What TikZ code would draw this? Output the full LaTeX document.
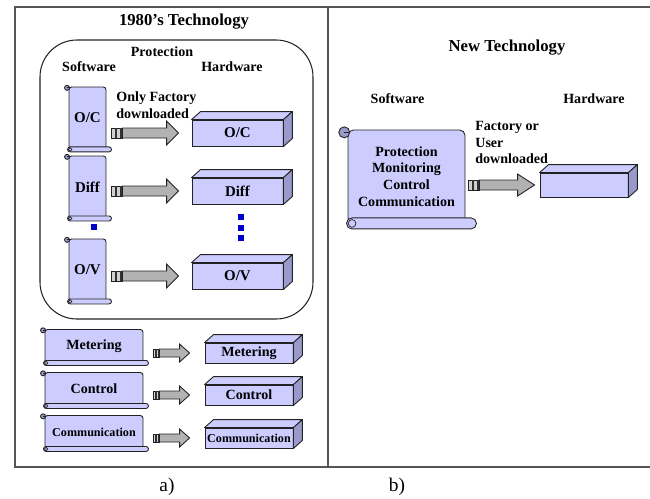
\documentclass[tikz,border=0pt]{standalone}
\usepackage{fontspec}
\setmainfont{Liberation Serif}
\usetikzlibrary{calc, positioning}

\definecolor{scrollc}{HTML}{CCCCFF}
\definecolor{sidec}{HTML}{9999CC}
\definecolor{linec}{HTML}{222222}
\definecolor{arrc}{HTML}{B2B2B2}
\definecolor{dotc}{HTML}{0000CC}
\definecolor{framec}{HTML}{555555}

\tikzset{
  lbl/.style={font=\fontsize{8}{9.4}\selectfont\bfseries, inner sep=0pt},
  ttl/.style={font=\fontsize{9.5}{11}\selectfont\bfseries, inner sep=0pt},
  sw/.style={draw=linec, fill=scrollc, rounded corners=1.5pt, inner sep=0pt, line width=0.5pt,
    font=\fontsize{8.5}{10}\selectfont\bfseries},
  hw/.style={draw=linec, fill=scrollc, inner sep=0pt, line width=0.5pt,
    font=\fontsize{8.5}{10}\selectfont\bfseries},
  deco/.style={draw=linec, fill=scrollc, line width=0.5pt},
  side/.style={draw=linec, fill=sidec, line width=0.5pt, line join=round},
  arr/.style={draw=linec, fill=arrc, line width=0.5pt},
  bdot/.style={fill=dotc}
}

% curls and bottom roll of a scroll: #1 node, #2 curl size
\newcommand\scrollends[2]{%
  \filldraw[deco, fill=sidec] ($(#1.north west)+(-0.6*#2,0.5*#2)$) circle (#2);
  \draw[linec, line width=0.4pt] ($(#1.north west)+(-0.6*#2,0.5*#2)$) -- ++(0.9*#2,0);
  \filldraw[deco, rounded corners={#2*0.55pt}] ($(#1.south west)+(-1,-#2)$) rectangle ($(#1.south east)+(2*#2,#2)$);
  \draw[linec, line width=0.4pt] ($(#1.south west)+(#2-1,0)$) circle (0.7*#2);
}

% top and side face of a hardware box
\newcommand\hwdepth[1]{%
  \filldraw[deco, line join=round] (#1.north west) -- ++(9,-8) -- ($(#1.north east)+(9,-8)$) -- (#1.north east) -- cycle;
  \filldraw[side] (#1.north east) -- ++(9,-8) -- ($(#1.south east)+(9,-8)$) -- (#1.south east) -- cycle;
}

% fat download arrow: #1 from, #2 to, #3 start gap, #4 end gap
\newcommand\fatarrow[4]{%
  \path (#1.east |- #2.west) ++(#3,0) coordinate (fa-s);
  \path (#2.west) ++(-#4,0) coordinate (fa-e);
  \filldraw[arr, line join=miter] ($(fa-s)+(\atail,-\abody)$) -- ($(fa-e)+(-\ahead,-\abody)$)
    -- ($(fa-e)+(-\ahead,-\awide)$) -- (fa-e) -- ($(fa-e)+(-\ahead,\awide)$)
    -- ($(fa-e)+(-\ahead,\abody)$) -- ($(fa-s)+(\atail,\abody)$) -- cycle;
  \filldraw[arr, fill=arrc!60] ($(fa-s)+(0,-\abody)$) rectangle ($(fa-s)+(\atail,\abody)$);
  \fill[gray!40!black] ($(fa-s)+(0.3*\atail,-\abody)$) rectangle ($(fa-s)+(0.55*\atail,\abody)$);
  \fill[gray!40!black] ($(fa-s)+(0.75*\atail,-\abody)$) rectangle ($(fa-s)+(\atail,\abody)$);
}

\begin{document}
\begin{tikzpicture}[x=0.02cm, y=-0.02cm]
  \useasboundingbox (0,0) rectangle (650,498);

  % frame
  \draw[framec, line width=0.7pt] (650,7) -- (15,7) -- (15,467) -- (650,467);
  \draw[framec, line width=0.7pt] (328,7) -- (328,467);

  % a) 1980's technology
  \node[ttl] (t80) at (184,22) {1980’s Technology};
  \draw[linec, line width=0.6pt, rounded corners=21pt] (40,40) rectangle (313,319);
  \node[lbl] (prot) at (162,52) {Protection};
  \node[lbl] (swl) at (89,67) {Software};
  \node[lbl] (hwl) at (232,67) {Hardware};
  \node[lbl, align=left, anchor=west] (only) at (116,105) {Only Factory\\downloaded};

  \node[sw, minimum width=0.74cm, minimum height=1.24cm] (swoc) at (87.5,118) {O/C};
  \node[sw, minimum width=0.74cm, minimum height=1.24cm] (swdiff) at (87.5,187) {Diff};
  \node[sw, minimum width=0.74cm, minimum height=1.24cm] (swov) at (87.5,270) {O/V};
  \scrollends{swoc}{2.5}
  \scrollends{swdiff}{2.5}
  \scrollends{swov}{2.5}

  \node[hw, minimum width=1.82cm, minimum height=0.52cm] (hwoc) at (237.5,133) {O/C};
  \node[hw, minimum width=1.82cm, minimum height=0.52cm] (hwdiff) at (237.5,191) {Diff};
  \node[hw, minimum width=1.82cm, minimum height=0.52cm] (hwov) at (237.5,276) {O/V};
  \hwdepth{hwoc}
  \hwdepth{hwdiff}
  \hwdepth{hwov}

  \def\atail{11}\def\abody{5}\def\awide{12}\def\ahead{12}
  \fatarrow{swoc}{hwoc}{5}{13}
  \fatarrow{swdiff}{hwdiff}{5}{13}
  \fatarrow{swov}{hwov}{5}{13}

  % dots
  \fill[bdot] (91,224) rectangle ++(6,6);
  \fill[bdot] (238,214) rectangle ++(6,6);
  \fill[bdot] (238,225) rectangle ++(6,6);
  \fill[bdot] (238,235) rectangle ++(6,6);

  \node[sw, minimum width=1.96cm, minimum height=0.66cm, font=\fontsize{8}{10}\selectfont\bfseries] (swmet) at (94,346) {Metering};
  \node[sw, minimum width=1.96cm, minimum height=0.66cm, font=\fontsize{8}{10}\selectfont\bfseries] (swctl) at (94,389) {Control};
  \node[sw, minimum width=1.96cm, minimum height=0.66cm, font=\fontsize{6.9}{8}\selectfont\bfseries] (swcom) at (94,432) {Communication};
  \scrollends{swmet}{2.5}
  \scrollends{swctl}{2.5}
  \scrollends{swcom}{2.5}

  \node[hw, minimum width=1.76cm, minimum height=0.4cm, font=\fontsize{8}{10}\selectfont\bfseries] (hwmet) at (249,353) {Metering};
  \node[hw, minimum width=1.76cm, minimum height=0.4cm, font=\fontsize{8}{10}\selectfont\bfseries] (hwctl) at (249,395) {Control};
  \node[hw, minimum width=1.76cm, minimum height=0.4cm, font=\fontsize{6.9}{8}\selectfont\bfseries] (hwcom) at (249,438) {Communication};
  \hwdepth{hwmet}
  \hwdepth{hwctl}
  \hwdepth{hwcom}

  \def\atail{6}\def\abody{4}\def\awide{9}\def\ahead{10}
  \fatarrow{swmet}{hwmet}{10}{15}
  \fatarrow{swctl}{hwctl}{10}{15}
  \fatarrow{swcom}{hwcom}{10}{15}

  % b) new technology
  \node[ttl] (tnew) at (507,48) {New Technology};
  \node[lbl] (swr) at (397.5,99) {Software};
  \node[lbl] (hwr) at (594,99) {Hardware};
  \node[lbl, align=left, anchor=west] (fac) at (475,142.5) {Factory or\\User\\downloaded};

  \node[sw, rounded corners=3pt, minimum width=2.34cm, minimum height=1.86cm, align=center,
    font=\fontsize{8}{9.5}\selectfont\bfseries] (swall) at (406.5,176.5)
    {Protection\\Monitoring\\Control\\Communication};
  \scrollends{swall}{5.5}
  \node[hw, minimum width=1.76cm, minimum height=0.48cm] (hwall) at (584,185) {};
  \hwdepth{hwall}

  \def\atail{11}\def\abody{5}\def\awide{11}\def\ahead{17}
  \fatarrow{swall}{hwall}{3}{5}

  % captions
  \node[font=\fontsize{11}{13}\selectfont] (capa) at (167,487) {a)};
  \node[font=\fontsize{11}{13}\selectfont] (capb) at (397,487) {b)};
\end{tikzpicture}
\end{document}
